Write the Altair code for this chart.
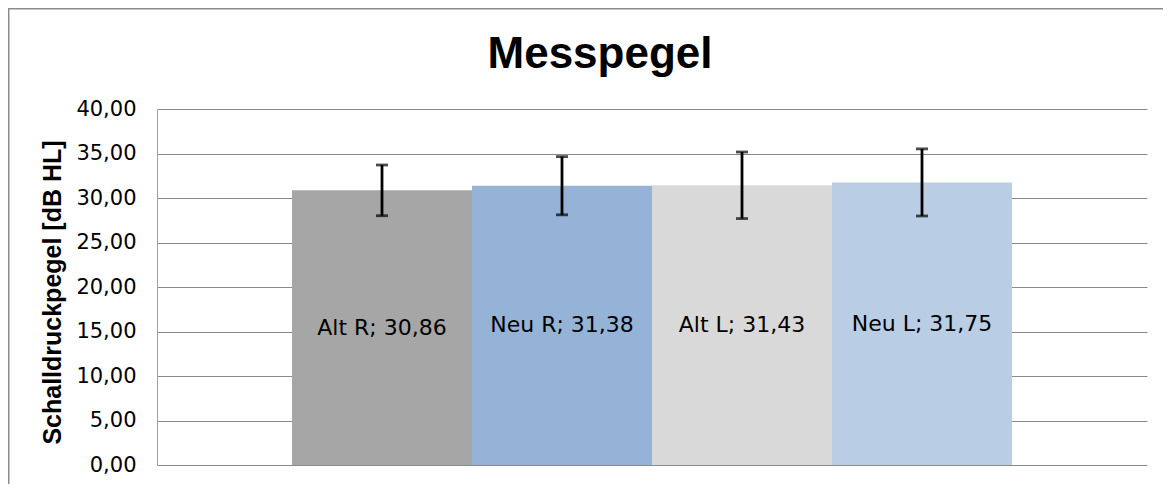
import altair as alt
import pandas as pd

categories = ["Alt R", "Neu R", "Alt L", "Neu L"]
means = [30.86, 31.38, 31.43, 31.75]
errors = [2.85, 3.27, 3.74, 3.77]
colors = ["#A6A6A6", "#95B3D7", "#D9D9D9", "#B9CDE5"]
y_ticks = [0, 5, 10, 15, 20, 25, 30, 35, 40]
title_text = ["Messpegel"]

df = pd.DataFrame({"cat": categories, "mean": means, "err": errors})

FONT = "Liberation Sans"
WIDE = "DejaVu Sans"
W, H = 990, 356
PL, PT = 149, 101

x_enc = alt.X("cat:N", sort=categories, axis=None,
              scale=alt.Scale(paddingInner=0, paddingOuter=0.75))

base = alt.Chart(df).transform_calculate(
    lo="datum.mean - datum.err",
    hi="datum.mean + datum.err",
    half="datum.mean / 2",
    label="datum.cat + '; ' + replace(format(datum.mean, '.2f'), '.', ',')",
)

frame = alt.Chart(pd.DataFrame({"a": [0]})).mark_rect(
    fill=None, stroke="#8c8c8c", strokeWidth=1.5
).encode(
    x=alt.value(-PL + 0.75), x2=alt.value(W + 60),
    y=alt.value(-PT + 0.75), y2=alt.value(H + 60),
)

title = alt.Chart(pd.DataFrame({"t": title_text})).mark_text(
    font=FONT, fontSize=44, fontWeight="bold", color="#000000",
    align="center", baseline="alphabetic"
).encode(x=alt.value(443), y=alt.value(-41), text="t:N")

bars = base.mark_bar(size=180).encode(
    x=x_enc,
    y=alt.Y("mean:Q",
            scale=alt.Scale(domain=[0, 40], nice=False, zero=True),
            axis=alt.Axis(
                values=y_ticks,
                title="Schalldruckpegel [dB HL]",
                titleFont=FONT, titleFontSize=25, titleFontWeight="bold",
                titleColor="#000000",
                titleX=-105, titleY=H / 2 + 5, titleAngle=-90,
                titleAlign="center", titleBaseline="middle",
                labelFont=WIDE, labelFontSize=21, labelColor="#000000",
                labelPadding=21, tickSize=0,
                labelExpr="replace(format(datum.value, '.2f'), '.', ',')",
                grid=True, gridColor="#8a8a8a", gridWidth=1,
                domain=True, domainColor="#a0a0a0", domainWidth=1,
            )),
    color=alt.Color("cat:N", sort=categories,
                    scale=alt.Scale(domain=categories, range=colors),
                    legend=None),
)

rules = base.mark_rule(color="#000000", strokeWidth=2.8).encode(
    x=x_enc, y="lo:Q", y2="hi:Q"
)
cap_lo = base.mark_tick(color="#000000", thickness=2.8, size=12,
                        orient="horizontal").encode(x=x_enc, y="lo:Q")
cap_hi = base.mark_tick(color="#000000", thickness=2.8, size=12,
                        orient="horizontal").encode(x=x_enc, y="hi:Q")

labels = base.mark_text(font=WIDE, fontSize=22, color="#000000",
                        baseline="middle", align="center").encode(
    x=x_enc, y="half:Q", text="label:N"
)

chart = alt.layer(frame, title, bars, rules, cap_lo, cap_hi, labels).properties(
    width=W, height=H,
    autosize=alt.AutoSizeParams(type="none"),
    padding={"left": PL, "top": PT, "right": 1155 - PL - W, "bottom": 476 - PT - H},
).configure_view(stroke=None)

chart.save("out.html", embed_options={"renderer": "svg", "actions": False})
